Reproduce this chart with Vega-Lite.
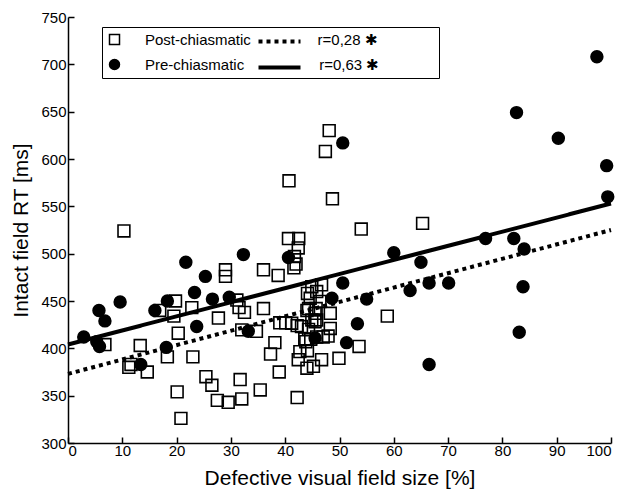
{
  "$schema": "https://vega.github.io/schema/vega-lite/v6.json",
  "autosize": "none",
  "width": 543,
  "height": 426,
  "padding": {"left": 68, "top": 17, "right": 13, "bottom": 51},
  "background": "white",
  "config": {
    "view": {"stroke": null},
    "font": "Liberation Sans",
    "axis": {
      "grid": false,
      "domainColor": "black",
      "domainWidth": 1.5,
      "tickColor": "black",
      "tickWidth": 1.5,
      "tickSize": -6,
      "labelColor": "black",
      "titleColor": "black",
      "labelFont": "Liberation Sans",
      "titleFont": "Liberation Sans",
      "labelFontSize": 15,
      "titleFontSize": 21,
      "titleFontWeight": "normal"
    },
    "legend": {
      "labelFont": "Liberation Sans",
      "labelFontSize": 15,
      "labelColor": "black",
      "labelLimit": 600
    }
  },
  "datasets": {
    "pts": [
      {"g": "Post-chiasmatic", "x": 6.8, "y": 404},
      {"g": "Post-chiasmatic", "x": 10.3, "y": 524},
      {"g": "Post-chiasmatic", "x": 11.2, "y": 380},
      {"g": "Post-chiasmatic", "x": 11.6, "y": 383},
      {"g": "Post-chiasmatic", "x": 13.3, "y": 403},
      {"g": "Post-chiasmatic", "x": 14.6, "y": 375},
      {"g": "Post-chiasmatic", "x": 16.9, "y": 440},
      {"g": "Post-chiasmatic", "x": 18.3, "y": 391},
      {"g": "Post-chiasmatic", "x": 19.5, "y": 434},
      {"g": "Post-chiasmatic", "x": 19.8, "y": 450},
      {"g": "Post-chiasmatic", "x": 20.1, "y": 354},
      {"g": "Post-chiasmatic", "x": 20.3, "y": 416},
      {"g": "Post-chiasmatic", "x": 20.8, "y": 326},
      {"g": "Post-chiasmatic", "x": 22.8, "y": 443},
      {"g": "Post-chiasmatic", "x": 23.0, "y": 391},
      {"g": "Post-chiasmatic", "x": 25.4, "y": 370},
      {"g": "Post-chiasmatic", "x": 26.5, "y": 361},
      {"g": "Post-chiasmatic", "x": 27.5, "y": 345},
      {"g": "Post-chiasmatic", "x": 27.7, "y": 432},
      {"g": "Post-chiasmatic", "x": 29.0, "y": 483},
      {"g": "Post-chiasmatic", "x": 29.0, "y": 476},
      {"g": "Post-chiasmatic", "x": 29.5, "y": 343},
      {"g": "Post-chiasmatic", "x": 31.1, "y": 451},
      {"g": "Post-chiasmatic", "x": 31.5, "y": 443},
      {"g": "Post-chiasmatic", "x": 31.7, "y": 367},
      {"g": "Post-chiasmatic", "x": 32.0, "y": 346.5},
      {"g": "Post-chiasmatic", "x": 32.0, "y": 419.5},
      {"g": "Post-chiasmatic", "x": 32.5, "y": 438},
      {"g": "Post-chiasmatic", "x": 34.7, "y": 418},
      {"g": "Post-chiasmatic", "x": 35.4, "y": 356},
      {"g": "Post-chiasmatic", "x": 36.0, "y": 483},
      {"g": "Post-chiasmatic", "x": 36.0, "y": 442},
      {"g": "Post-chiasmatic", "x": 37.3, "y": 394},
      {"g": "Post-chiasmatic", "x": 38.1, "y": 406},
      {"g": "Post-chiasmatic", "x": 38.7, "y": 477},
      {"g": "Post-chiasmatic", "x": 38.9, "y": 375},
      {"g": "Post-chiasmatic", "x": 39.0, "y": 427},
      {"g": "Post-chiasmatic", "x": 40.1, "y": 427},
      {"g": "Post-chiasmatic", "x": 40.6, "y": 516},
      {"g": "Post-chiasmatic", "x": 40.7, "y": 577},
      {"g": "Post-chiasmatic", "x": 41.2, "y": 426.5},
      {"g": "Post-chiasmatic", "x": 41.6, "y": 485},
      {"g": "Post-chiasmatic", "x": 41.7, "y": 497},
      {"g": "Post-chiasmatic", "x": 42.0, "y": 489},
      {"g": "Post-chiasmatic", "x": 42.2, "y": 424},
      {"g": "Post-chiasmatic", "x": 42.2, "y": 348},
      {"g": "Post-chiasmatic", "x": 42.4, "y": 388},
      {"g": "Post-chiasmatic", "x": 42.4, "y": 506},
      {"g": "Post-chiasmatic", "x": 42.5, "y": 516},
      {"g": "Post-chiasmatic", "x": 42.7, "y": 396.5},
      {"g": "Post-chiasmatic", "x": 43.0, "y": 423},
      {"g": "Post-chiasmatic", "x": 43.6, "y": 410},
      {"g": "Post-chiasmatic", "x": 43.8, "y": 407},
      {"g": "Post-chiasmatic", "x": 44.0, "y": 440},
      {"g": "Post-chiasmatic", "x": 44.0, "y": 379},
      {"g": "Post-chiasmatic", "x": 44.1, "y": 397.5},
      {"g": "Post-chiasmatic", "x": 44.1, "y": 458},
      {"g": "Post-chiasmatic", "x": 44.3, "y": 420},
      {"g": "Post-chiasmatic", "x": 44.3, "y": 442},
      {"g": "Post-chiasmatic", "x": 44.6, "y": 453},
      {"g": "Post-chiasmatic", "x": 44.7, "y": 409.5},
      {"g": "Post-chiasmatic", "x": 44.9, "y": 465},
      {"g": "Post-chiasmatic", "x": 44.9, "y": 430},
      {"g": "Post-chiasmatic", "x": 45.2, "y": 381},
      {"g": "Post-chiasmatic", "x": 45.5, "y": 437},
      {"g": "Post-chiasmatic", "x": 45.5, "y": 428},
      {"g": "Post-chiasmatic", "x": 45.7, "y": 442},
      {"g": "Post-chiasmatic", "x": 45.8, "y": 460},
      {"g": "Post-chiasmatic", "x": 45.8, "y": 430},
      {"g": "Post-chiasmatic", "x": 45.8, "y": 412},
      {"g": "Post-chiasmatic", "x": 46.4, "y": 449.5},
      {"g": "Post-chiasmatic", "x": 46.7, "y": 467},
      {"g": "Post-chiasmatic", "x": 46.7, "y": 388},
      {"g": "Post-chiasmatic", "x": 47.0, "y": 412},
      {"g": "Post-chiasmatic", "x": 47.4, "y": 608},
      {"g": "Post-chiasmatic", "x": 47.9, "y": 413},
      {"g": "Post-chiasmatic", "x": 48.1, "y": 630},
      {"g": "Post-chiasmatic", "x": 48.3, "y": 437},
      {"g": "Post-chiasmatic", "x": 48.3, "y": 421},
      {"g": "Post-chiasmatic", "x": 48.7, "y": 558},
      {"g": "Post-chiasmatic", "x": 49.9, "y": 389.5},
      {"g": "Post-chiasmatic", "x": 53.6, "y": 402},
      {"g": "Post-chiasmatic", "x": 54.0, "y": 526},
      {"g": "Post-chiasmatic", "x": 58.8, "y": 434},
      {"g": "Post-chiasmatic", "x": 65.3, "y": 532},
      {"g": "Pre-chiasmatic", "x": 2.9, "y": 412},
      {"g": "Pre-chiasmatic", "x": 5.3, "y": 407},
      {"g": "Pre-chiasmatic", "x": 5.8, "y": 402},
      {"g": "Pre-chiasmatic", "x": 5.7, "y": 440},
      {"g": "Pre-chiasmatic", "x": 6.8, "y": 429},
      {"g": "Pre-chiasmatic", "x": 9.6, "y": 449},
      {"g": "Pre-chiasmatic", "x": 13.4, "y": 383},
      {"g": "Pre-chiasmatic", "x": 16.0, "y": 440},
      {"g": "Pre-chiasmatic", "x": 18.3, "y": 450},
      {"g": "Pre-chiasmatic", "x": 18.1, "y": 401},
      {"g": "Pre-chiasmatic", "x": 21.7, "y": 491},
      {"g": "Pre-chiasmatic", "x": 23.3, "y": 459},
      {"g": "Pre-chiasmatic", "x": 23.7, "y": 423},
      {"g": "Pre-chiasmatic", "x": 25.3, "y": 476},
      {"g": "Pre-chiasmatic", "x": 26.6, "y": 452},
      {"g": "Pre-chiasmatic", "x": 29.7, "y": 454},
      {"g": "Pre-chiasmatic", "x": 32.3, "y": 499},
      {"g": "Pre-chiasmatic", "x": 33.2, "y": 418},
      {"g": "Pre-chiasmatic", "x": 40.6, "y": 496},
      {"g": "Pre-chiasmatic", "x": 45.5, "y": 411},
      {"g": "Pre-chiasmatic", "x": 48.6, "y": 453},
      {"g": "Pre-chiasmatic", "x": 50.6, "y": 469},
      {"g": "Pre-chiasmatic", "x": 50.6, "y": 617},
      {"g": "Pre-chiasmatic", "x": 51.3, "y": 406},
      {"g": "Pre-chiasmatic", "x": 53.3, "y": 426},
      {"g": "Pre-chiasmatic", "x": 55.0, "y": 452},
      {"g": "Pre-chiasmatic", "x": 60.0, "y": 501},
      {"g": "Pre-chiasmatic", "x": 63.0, "y": 461},
      {"g": "Pre-chiasmatic", "x": 65.0, "y": 491},
      {"g": "Pre-chiasmatic", "x": 66.5, "y": 469},
      {"g": "Pre-chiasmatic", "x": 66.5, "y": 383},
      {"g": "Pre-chiasmatic", "x": 70.1, "y": 469},
      {"g": "Pre-chiasmatic", "x": 76.9, "y": 516},
      {"g": "Pre-chiasmatic", "x": 82.1, "y": 516},
      {"g": "Pre-chiasmatic", "x": 82.6, "y": 649},
      {"g": "Pre-chiasmatic", "x": 83.1, "y": 417},
      {"g": "Pre-chiasmatic", "x": 83.8, "y": 465},
      {"g": "Pre-chiasmatic", "x": 84.0, "y": 505},
      {"g": "Pre-chiasmatic", "x": 90.3, "y": 622},
      {"g": "Pre-chiasmatic", "x": 97.4, "y": 708},
      {"g": "Pre-chiasmatic", "x": 99.2, "y": 593},
      {"g": "Pre-chiasmatic", "x": 99.4, "y": 560}
    ],
    "fits": [
      {"fit": "r=0,28", "x": 0, "y": 373},
      {"fit": "r=0,28", "x": 100, "y": 525},
      {"fit": "r=0,63", "x": 0, "y": 404},
      {"fit": "r=0,63", "x": 100, "y": 553}
    ]
  },
  "layer": [
    {
      "data": {"name": "fits"},
      "mark": {"type": "line", "color": "black", "strokeWidth": 4, "strokeCap": "butt"},
      "encoding": {
        "x": {
          "field": "x", "type": "quantitative",
          "scale": {"domain": [0, 100], "nice": false},
          "axis": {"values": [0, 10, 20, 30, 40, 50, 60, 70, 80, 90, 100], "title": "Defective visual field size [%]", "labelPadding": 6, "titlePadding": 9}
        },
        "y": {
          "field": "y", "type": "quantitative",
          "scale": {"domain": [300, 750], "nice": false, "zero": false},
          "axis": {"values": [300, 350, 400, 450, 500, 550, 600, 650, 700, 750], "title": "Intact field RT [ms]", "labelPadding": 8, "titlePadding": 9}
        },
        "strokeDash": {
          "field": "fit", "type": "nominal",
          "scale": {"domain": ["r=0,28", "r=0,63"], "range": [[4, 4], [1, 0]]},
          "legend": {
            "orient": "none", "legendX": 202, "legendY": 15,
            "title": null,
            "symbolType": "M-2.8,0H2.8", "symbolSize": 225, "symbolStrokeWidth": 4,
            "symbolStrokeColor": "black",
            "labelOffset": 0, "rowPadding": 8,
            "labelExpr": "''",
            "padding": 0
          }
        }
      }
    },
    {
      "data": {"name": "pts"},
      "mark": {"type": "point", "filled": true, "stroke": "black", "strokeWidth": 1.6, "opacity": 1},
      "encoding": {
        "x": {"field": "x", "type": "quantitative"},
        "y": {"field": "y", "type": "quantitative"},
        "shape": {
          "field": "g", "type": "nominal",
          "scale": {"domain": ["Post-chiasmatic", "Pre-chiasmatic"], "range": ["square", "circle"]},
          "legend": {
            "orient": "none", "legendX": 34, "legendY": 10,
            "title": null,
            "strokeColor": "black", "padding": 5,
            "labelOffset": 23, "rowPadding": 8,
            "labelExpr": "datum.label === 'Post-chiasmatic' ? 'Post-chiasmatic\u00a0\u00a0\u00a0\u00a0\u00a0\u00a0\u00a0\u00a0\u00a0\u00a0\u00a0\u00a0\u00a0\u00a0\u00a0\u00a0r=0,28\u00a0\u2731\u00a0\u00a0\u00a0\u00a0\u00a0\u00a0\u00a0\u00a0\u00a0\u00a0\u00a0\u00a0\u00a0\u200b' : 'Pre-chiasmatic\u00a0\u00a0\u00a0\u00a0\u00a0\u00a0\u00a0\u00a0\u00a0\u00a0\u00a0\u00a0\u00a0\u00a0\u00a0\u00a0\u00a0\u00a0r=0,63\u00a0\u2731\u00a0\u00a0\u00a0\u00a0\u00a0\u00a0\u00a0\u00a0\u00a0\u00a0\u00a0\u00a0\u00a0\u200b'",
            "encode": {"symbols": {"update": {
              "stroke": {"value": "black"},
              "strokeWidth": {"value": 1.6},
              "opacity": {"value": 1},
              "strokeOpacity": {"value": 1},
              "fill": {"signal": "datum.value === 'Pre-chiasmatic' ? 'black' : 'white'"}
            }}}
          }
        },
        "fill": {
          "field": "g", "type": "nominal",
          "scale": {"domain": ["Post-chiasmatic", "Pre-chiasmatic"], "range": ["transparent", "black"]},
          "legend": null
        },
        "size": {"value": 140}
      }
    }
  ]
}
